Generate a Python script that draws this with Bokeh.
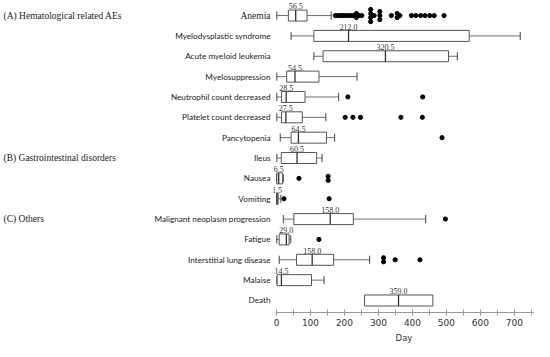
from bokeh.plotting import figure
from bokeh.layouts import row
from bokeh.models import Range1d, SingleIntervalTicker, ColumnDataSource
from bokeh.core.properties import value
from bokeh.embed import file_html
from bokeh.resources import INLINE

nan = float("nan")

categories = ["Anemia", "Myelodysplastic syndrome", "Acute myeloid leukemia", "Myelosuppression",
              "Neutrophil count decreased", "Platelet count decreased", "Pancytopenia", "Ileus",
              "Nausea", "Vomiting", "Malignant neoplasm progression", "Fatigue",
              "Interstitial lung disease", "Malaise", "Death"]
whisker_low = [1, 43, 110, 1, 1, 1, 11, 1, 0, 0, 20, 1, 8, 1, nan]
q1 = [35, 110, 137, 30, 15, 15, 43, 14, 1, 0, 51, 8, 59, 2, 259]
median = [56.5, 212, 320.5, 54.5, 28.5, 27.5, 64.5, 60.5, 6.5, 1.5, 158, 29, 105, 14.5, 359]
q3 = [90, 567, 506, 125, 84, 76, 147, 118, 18, 5, 226, 37, 168, 103, 460]
whisker_high = [161, 717, 532, 237, 183, 145, 171, 134, 20, 13, 439, 42, 274, 140, nan]
median_labels = ["56.5", "212.0", "320.5", "54.5", "28.5", "27.5", "64.5", "60.5", "6.5", "1.5",
                 "158.0", "29.0", "158.0", "14.5", "359.0"]
outliers = [
    [173, 181, 189, 196, 204, 212, 220, 227, 235, 235, 243, 251, 277, 277, 277, 277, 287,
     304, 304, 304, 338, 355, 355, 363, 397, 410, 424, 437, 451, 464, 493],
    [], [], [],
    [210, 430],
    [202, 225, 247, 366, 429],
    [487],
    [],
    [66, 152, 152],
    [22, 155],
    [497],
    [125],
    [315, 315, 349, 422],
    [], [],
]
groups = ["(A) Hematological related AEs", "(B) Gastrointestinal disorders", "(C) Others"]
group_rows = ["Anemia", "Ileus", "Malignant neoplasm progression"]
serif_categories = ["Anemia"]
x_ticks_interval = 100

rows = list(range(len(categories)))
BOX_H = 0.54
CAP_H = 0.2
LINE = "#6e6e6e"
FRAME_H = 312
LEFT_W = 273
y_rng = Range1d(14.59, -0.74)

# ---- left panel: group headers and category names ----
g = figure(frame_width=LEFT_W, frame_height=FRAME_H, output_backend="svg", toolbar_location=None,
           x_range=Range1d(0, LEFT_W), y_range=y_rng,
           min_border_left=0, min_border_right=0, min_border_top=0, min_border_bottom=29)
g.outline_line_color = None
g.grid.visible = False
g.axis.visible = False
g.text(x=[3] * len(groups), y=[categories.index(c) for c in group_rows], text=groups,
       text_align="left", text_baseline="middle",
       text_font=value("Liberation Serif"), text_font_size="9.5px", text_color="#222222")
csrc = ColumnDataSource(dict(
    x=[LEFT_W - 3] * len(rows), y=rows, t=categories,
    f=["Liberation Serif" if c in serif_categories else "Lato" for c in categories],
    s=["9.5px" if c in serif_categories else "8.2px" for c in categories]))
g.text(x="x", y="y", text="t", text_font="f", text_font_size="s", source=csrc,
       text_align="right", text_baseline="middle", text_color="#222222")

# ---- main box plot ----
p = figure(frame_width=261, frame_height=FRAME_H, output_backend="svg", toolbar_location=None,
           x_range=Range1d(-8.8, 759), y_range=y_rng, y_axis_location=None,
           min_border_left=0, min_border_right=0, min_border_top=0, min_border_bottom=0)
p.outline_line_color = None
p.grid.visible = False

# whiskers
wr = [r for r in rows if whisker_low[r] == whisker_low[r]]
wsrc = ColumnDataSource(dict(
    y=wr,
    lo=[whisker_low[r] for r in wr], a=[q1[r] for r in wr],
    b=[q3[r] for r in wr], hi=[whisker_high[r] for r in wr],
    c0=[r - CAP_H for r in wr], c1=[r + CAP_H for r in wr]))
p.segment(x0="lo", x1="a", y0="y", y1="y", source=wsrc, line_color=LINE, line_width=1)
p.segment(x0="b", x1="hi", y0="y", y1="y", source=wsrc, line_color=LINE, line_width=1)
p.segment(x0="lo", x1="lo", y0="c0", y1="c1", source=wsrc, line_color="#444444", line_width=1)
p.segment(x0="hi", x1="hi", y0="c0", y1="c1", source=wsrc, line_color="#444444", line_width=1)

# boxes
bsrc = ColumnDataSource(dict(y=rows, left=q1, right=q3, med=median, lab=median_labels,
                             m0=[r - BOX_H / 2 for r in rows], m1=[r + BOX_H / 2 for r in rows],
                             ty=[r - BOX_H / 2 - 0.03 for r in rows]))
p.hbar(y="y", left="left", right="right", height=BOX_H, source=bsrc,
       fill_color="white", line_color="#555555", line_width=1)
p.segment(x0="med", x1="med", y0="m0", y1="m1", source=bsrc, line_color="#333333", line_width=1.3)
p.text(x="med", y="ty", text="lab", source=bsrc, text_align="center", text_baseline="bottom",
       text_font=value("Liberation Serif"), text_font_size="8px", text_color="#333333")

# outliers (identical values stacked vertically)
ox, oy = [], []
for r, vals in enumerate(outliers):
    counts = {}
    for v in vals:
        counts[v] = counts.get(v, 0) + 1
    seen = {}
    for v in vals:
        n = counts[v]
        k = seen.get(v, 0)
        seen[v] = k + 1
        ox.append(v)
        oy.append(r + (k - (n - 1) / 2) * 0.2)
p.scatter(x=ox, y=oy, size=4.2, fill_color="black", line_color="black")

# Day axis
p.xaxis.bounds = (-4, 770)
p.xaxis.ticker = SingleIntervalTicker(interval=x_ticks_interval, num_minor_ticks=2)
p.xaxis.axis_line_color = "#999999"
p.xaxis.major_tick_line_color = "#999999"
p.xaxis.minor_tick_line_color = "#999999"
p.xaxis.major_tick_in = 3
p.xaxis.major_tick_out = 3
p.xaxis.minor_tick_in = 3
p.xaxis.minor_tick_out = 3
p.xaxis.major_label_standoff = 3
p.xaxis.major_label_text_font = "DejaVu Sans"
p.xaxis.major_label_text_font_size = "9px"
p.xaxis.major_label_text_color = "#333333"
p.xaxis.axis_label = "Day"
p.xaxis.axis_label_standoff = 4
p.xaxis.axis_label_text_font = "DejaVu Sans"
p.xaxis.axis_label_text_font_size = "8.5px"
p.xaxis.axis_label_text_font_style = "normal"
p.xaxis.axis_label_text_color = "#333333"

layout = row(g, p)
open("out.html", "w").write(file_html(layout, INLINE))
